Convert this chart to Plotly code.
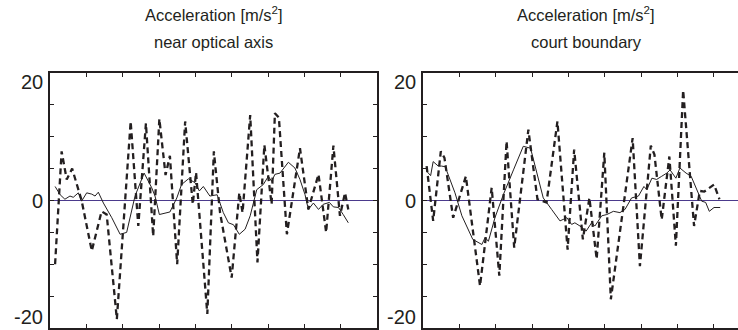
import plotly.graph_objects as go

# ---------------- data ----------------
# left panel: near optical axis
left_raw_t = [0.14, 0.32, 0.46, 0.61, 0.87, 1.15, 1.42, 1.56, 1.84, 2.22, 2.43, 2.64, 2.84,
              3.01, 3.18, 3.30, 3.50, 3.72, 3.93, 4.02, 4.33, 4.51, 4.68, 5.00, 5.21, 5.30,
              5.51, 5.71, 5.90, 6.01, 6.10, 6.19, 6.30, 6.52, 6.88, 7.11, 7.39, 7.60, 7.80,
              7.98, 8.12, 8.21]
left_raw_a = [-10.0, 7.7, 3.3, 5.0, 0.0, -7.9, -1.7, -2.2, -18.6, 12.4, -4.0, 12.1, -5.6,
              12.8, 4.0, 7.0, -10.0, 12.4, -0.6, 4.4, -17.8, 7.7, -1.9, -12.1, 1.2, -1.9,
              13.4, -9.7, 8.7, 3.3, -0.6, 13.7, 13.0, -5.3, 8.2, -1.4, 4.1, -5.0, 8.6,
              -2.4, 1.2, -1.4]
left_smooth_t = [0.14, 0.28, 0.41, 0.55, 0.64, 0.78, 0.87, 1.01, 1.15, 1.24, 1.33, 1.47, 1.70,
                 1.93, 2.11, 2.34, 2.59, 2.80, 2.89, 3.01, 3.30, 3.49, 3.62, 3.81, 3.99, 4.11,
                 4.22, 4.40, 4.60, 4.77, 4.91, 5.05, 5.21, 5.37, 5.51, 5.69, 5.87, 6.01, 6.10,
                 6.19, 6.33, 6.56, 6.74, 6.88, 7.02, 7.11, 7.25, 7.39, 7.52, 7.69, 7.80, 7.94,
                 8.07, 8.21]
left_smooth_a = [2.2, 0.9, 0.2, 0.7, 0.5, 1.2, -0.1, 1.2, 1.0, 0.7, 1.3, -0.4, -2.7,
                 -5.3, -5.0, 0.7, 4.3, 2.0, 0.7, -2.2, -1.8, 0.4, 2.5, 3.4, 2.8, 1.5,
                 2.2, 0.7, 0.9, -1.9, -3.5, -3.8, -5.3, -4.5, -2.4, 1.7, 2.5, 3.8, 3.0,
                 4.1, 4.3, 6.0, 5.1, 3.3, 0.9, -1.4, -0.4, -1.4, -0.6, -0.3, -1.0, -1.1,
                 -2.2, -3.5]

# right panel: court boundary
right_raw_t = [0.10, 0.28, 0.49, 0.59, 0.83, 1.18, 1.57, 1.89, 2.10, 2.30, 2.51, 2.90, 3.15,
               3.40, 3.70, 3.98, 4.16, 4.40, 4.58, 4.78, 4.99, 5.17, 5.77, 5.97, 6.27, 6.37,
               6.57, 6.78, 6.96, 7.16, 7.46, 7.62, 7.74, 8.01, 8.16]
right_raw_a = [5.4, -3.2, 7.7, 6.7, -2.7, 3.8, -13.4, 2.0, -11.8, 9.3, -7.4, 11.1, 0.2,
               -0.3, 12.4, -7.7, 8.0, -6.1, 0.4, -9.2, 7.5, -15.5, 9.8, -10.3, 8.6, 7.2,
               -3.0, 6.9, -7.1, 17.3, -4.0, 1.5, 1.4, 2.5, 0.2]
right_smooth_t = [0.10, 0.21, 0.28, 0.42, 0.51, 0.61, 0.88, 1.07, 1.37, 1.62, 1.71, 1.80, 1.98,
                  2.21, 2.49, 2.76, 2.96, 3.31, 3.54, 3.77, 3.96, 4.09, 4.18, 4.32, 4.49, 4.64,
                  4.73, 4.92, 5.06, 5.24, 5.42, 5.56, 5.74, 5.93, 6.08, 6.16, 6.30, 6.43, 6.57,
                  6.71, 6.80, 6.96, 7.07, 7.24, 7.38, 7.51, 7.67, 7.78, 7.88, 8.01, 8.18]
right_smooth_a = [4.6, 3.9, 6.1, 5.4, 5.4, 5.3, 1.2, -2.4, -6.1, -6.9, -5.8, -6.4, -2.7,
                  0.9, 4.8, 8.5, 8.2, 0.4, -1.4, -3.2, -2.7, -3.75, -3.5, -4.0, -4.8, -3.5,
                  -4.0, -2.4, -2.2, -1.7, -1.9, -1.4, 0.4, 0.7, 2.2, 1.7, 3.5, 3.3, 3.8,
                  4.3, 4.8, 3.5, 5.1, 4.3, 3.8, 2.0, -0.1, -0.3, -1.7, -1.1, -1.1]

titles = ["Acceleration [m/s<sup>2</sup>]", "Acceleration [m/s<sup>2</sup>]"]
subtitles = ["near optical axis", "court boundary"]
ytick_labels = ["20", "0", "-20"]
ytick_values = [20, 0, -20]

# ---------------- styling ----------------
W, H = 738, 330
INK = "#231f20"
ZERO = "#4b3a8c"
FONT = "Liberation Sans, Arial, Helvetica, sans-serif"

fig = go.Figure()

fig.add_trace(go.Scatter(x=left_raw_t, y=left_raw_a, mode="lines", xaxis="x", yaxis="y",
                         line=dict(color=INK, width=2.3, dash="6px,4px"), showlegend=False))
fig.add_trace(go.Scatter(x=left_smooth_t, y=left_smooth_a, mode="lines", xaxis="x", yaxis="y",
                         line=dict(color=INK, width=1), showlegend=False))
fig.add_trace(go.Scatter(x=right_raw_t, y=right_raw_a, mode="lines", xaxis="x2", yaxis="y2",
                         line=dict(color=INK, width=2.3, dash="6px,4px"), showlegend=False))
fig.add_trace(go.Scatter(x=right_smooth_t, y=right_smooth_a, mode="lines", xaxis="x2", yaxis="y2",
                         line=dict(color=INK, width=1), showlegend=False))

left_px = (50, 377)
right_px = (423, 750)
unit_px = (left_px[1] - left_px[0]) / 9.0
top_px, bot_px = 73, 328
ydom = [(H - bot_px) / H, (H - top_px) / H]

common_x = dict(showgrid=False, zeroline=False, showline=True, linecolor=INK, linewidth=2,
                ticks="inside", ticklen=4, tickwidth=1, tickcolor=INK, dtick=1, tick0=0,
                showticklabels=False, mirror="ticks", fixedrange=True)
common_y = dict(showgrid=False, zeroline=True, zerolinecolor=ZERO, zerolinewidth=1.3,
                showline=True, linecolor=INK, linewidth=2, ticks="inside", ticklen=4,
                tickwidth=1, tickcolor=INK, dtick=5, tick0=0, showticklabels=False,
                range=[-20, 20], domain=ydom, fixedrange=True)

right_visible_units = (W - right_px[0]) / unit_px

fig.update_layout(
    width=W, height=H, margin=dict(l=0, r=0, t=0, b=0),
    paper_bgcolor="white", plot_bgcolor="white",
    font=dict(family=FONT, color=INK),
    xaxis=dict(common_x, domain=[left_px[0] / W, left_px[1] / W], range=[0, 9], anchor="y"),
    yaxis=dict(common_y, mirror="ticks", anchor="x"),
    xaxis2=dict(common_x, domain=[right_px[0] / W, 1.0], range=[0, right_visible_units], anchor="y2"),
    yaxis2=dict(common_y, mirror=False, anchor="x2"),
)

annotations = []
for i, (lp, title, sub) in enumerate(zip([left_px, right_px], titles, subtitles)):
    cx = (lp[0] + lp[1]) / 2 / W
    if i == 1:
        cx = 586 / W
    annotations.append(dict(text=title, x=cx, y=1 - 14 / H, xref="paper", yref="paper",
                            xanchor="center", yanchor="middle", showarrow=False,
                            font=dict(size=16.5, family=FONT, color=INK)))
    annotations.append(dict(text=sub, x=cx, y=1 - 42 / H, xref="paper", yref="paper",
                            xanchor="center", yanchor="middle", showarrow=False,
                            font=dict(size=16.5, family=FONT, color=INK)))
    yref = "y" if i == 0 else "y2"
    for lab, val in zip(ytick_labels, ytick_values):
        anc = "top" if val > 0 else ("bottom" if val < 0 else "middle")
        shift = 4 if val > 0 else (-2 if val < 0 else 0)
        annotations.append(dict(text=lab, x=(lp[0] - 5) / W, y=val, xref="paper", yref=yref,
                                xanchor="right", yanchor=anc, yshift=shift, showarrow=False,
                                font=dict(size=20, family=FONT, color=INK)))

fig.update_layout(annotations=annotations)

fig.write_html("out.html")
